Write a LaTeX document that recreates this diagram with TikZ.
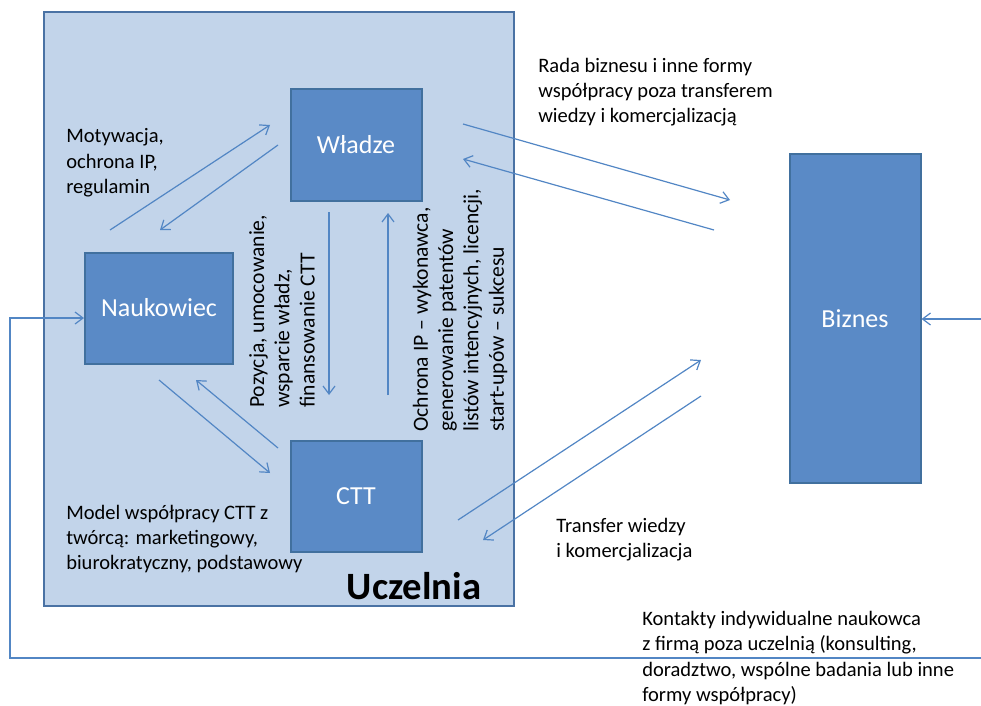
\documentclass[tikz,border=0pt]{standalone}
\usepackage{fontspec}
\setmainfont{Carlito}
\usetikzlibrary{arrows.meta}
\definecolor{uczfill}{HTML}{C2D4EA}
\definecolor{uczdraw}{HTML}{4A72A4}
\definecolor{boxfill}{HTML}{5A8AC6}
\definecolor{boxdraw}{HTML}{41709E}
\definecolor{arrowc}{HTML}{5286C4}
\tikzset{
  actor/.style={draw=boxdraw, fill=boxfill, line width=1.5pt, inner sep=0pt,
    text=white, font=\fontsize{19.5}{22}\selectfont},
  lbl/.style={inner sep=0pt, align=left, anchor=west, text=black,
    font=\fontsize{15.4}{19}\selectfont},
  rlbl/.style={lbl, rotate=90, font=\fontsize{16.2}{19}\selectfont},
  conn/.style={draw=arrowc, line width=0.9pt, -{Straight Barb[length=6pt,width=9pt,line width=0.9pt]}},
  plain/.style={draw=arrowc, line width=0.9pt}
}
\begin{document}
\begin{tikzpicture}[x=0.75pt,y=-0.75pt]
\useasboundingbox (0,0) rectangle (981,706);
% University frame
\node[draw=uczdraw, fill=uczfill, line width=2.2pt, minimum width=470*0.75pt,
  minimum height=594*0.75pt, inner sep=0pt] (ucz) at (279,309) {};
\node[inner sep=0pt, font=\fontsize{29}{32}\selectfont\bfseries] (uczlbl) at (414,586) {Uczelnia};
% Actors
\node[actor, minimum width=131*0.75pt, minimum height=112*0.75pt] (wl) at (356,145) {Władze};
\node[actor, minimum width=148*0.75pt, minimum height=111*0.75pt] (nau) at (159,308) {Naukowiec};
\node[actor, minimum width=131*0.75pt, minimum height=111*0.75pt] (ctt) at (356,496) {CTT};
\node[actor, minimum width=131*0.75pt, minimum height=329*0.75pt] (biz) at (855,318.5) {Biznes};
% Labels
\node[lbl] (l1) at (66,163) {Motywacja,\\ochrona IP,\\regulamin};
\node[lbl] (l2) at (66,539) {Model współpracy CTT z\\twórcą: marketingowy,\\biurokratyczny, podstawowy};
\node[rlbl] (l3) at (282,408) {Pozycja, umocowanie,\\wsparcie władz,\\finansowanie CTT};
\node[rlbl] (l4) at (460,432) {Ochrona IP – wykonawca,\\generowanie patentów\\listów intencyjnych, licencji,\\start-upów – sukcesu};
\node[lbl] (l5) at (538,92) {Rada biznesu i inne formy\\współpracy poza transferem\\wiedzy i komercjalizacją};
\node[lbl] (l6) at (556,539.5) {Transfer wiedzy\\i komercjalizacja};
\node[lbl] (l7) at (642,658) {Kontakty indywidualne naukowca\\z firmą poza uczelnią (konsulting,\\doradztwo, wspólne badania lub inne\\formy współpracy)};
% Connector end points
\coordinate (nw1) at (110,230); \coordinate (wn1) at (270,125);
\coordinate (wn2) at (278,145); \coordinate (nw2) at (160,230);
\coordinate (wc1) at (329,212); \coordinate (cw1) at (329,395);
\coordinate (cw2) at (388,395); \coordinate (wc2) at (388,213);
\coordinate (nc1) at (159,380); \coordinate (cn1) at (270,473);
\coordinate (cn2) at (278,448); \coordinate (nc2) at (196,380);
\coordinate (wb1) at (463,124); \coordinate (bw1) at (730,200);
\coordinate (bw2) at (714,230); \coordinate (wb2) at (463,159);
\coordinate (cb1) at (458,520); \coordinate (bc1) at (701,360);
\coordinate (bc2) at (701,396); \coordinate (cb2) at (483,540);
\coordinate (rin) at (981,319);
\coordinate (rout) at (981,658);
\coordinate (lc1) at (10,658); \coordinate (lc2) at (10,318);
% Connectors
\draw[conn] (nw1) -- (wn1);
\draw[conn] (wn2) -- (nw2);
\draw[conn] (wc1) -- (cw1);
\draw[conn] (cw2) -- (wc2);
\draw[conn] (nc1) -- (cn1);
\draw[conn] (cn2) -- (nc2);
\draw[conn] (wb1) -- (bw1);
\draw[conn] (bw2) -- (wb2);
\draw[conn] (cb1) -- (bc1);
\draw[conn] (bc2) -- (cb2);
\draw[conn] (rin) -- (biz.east |- rin);
\draw[conn] (rout) -- (lc1) -- (lc2) -- (nau.west |- lc2);
\end{tikzpicture}
\end{document}
